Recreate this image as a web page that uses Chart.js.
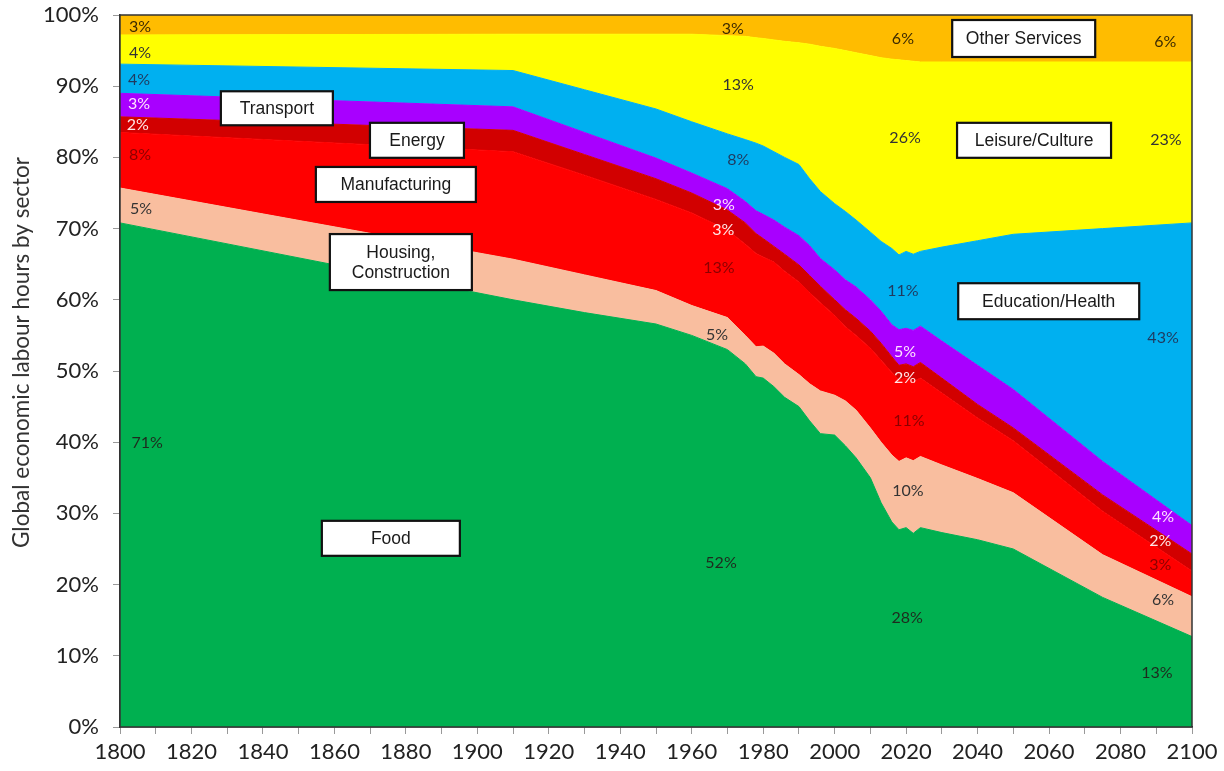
<!DOCTYPE html>
<html><head><meta charset="utf-8">
<script src="https://cdn.jsdelivr.net/npm/chart.js@4.4.1/dist/chart.umd.min.js"></script>
<style>html,body{margin:0;padding:0;background:#fff}</style>
</head><body>
<canvas id="c" width="1224" height="771"></canvas>
<script>
// ---- data (share of global economic labour hours, %) ----
const years = [1800,1910,1930,1950,1960,1970,1975,1978,1980,1983,1986,1990,1993,1996,2000,2003,2006,2010,2013,2016,2018,2020,2022,2024,2030,2040,2050,2075,2100];
const food          = [70.8,60.0,58.2,56.6,55.0,53.0,51.0,49.2,49.0,47.8,46.3,45.0,43.0,41.2,41.0,39.5,37.8,35.0,31.5,28.8,27.7,28.0,27.2,28.0,27.3,26.3,25.0,18.2,12.7];
const housing       = [4.9,5.7,5.3,4.7,4.2,4.5,4.0,4.2,4.5,4.7,4.7,4.5,5.2,6.0,5.6,6.3,6.7,7.0,8.5,9.4,9.6,9.8,10.2,10.0,9.5,8.6,7.9,6.0,5.6];
const manufacturing = [7.8,15.1,14.0,12.8,13.0,12.3,12.8,13.1,12.5,12.8,13.0,13.0,12.8,12.4,11.2,10.4,10.5,11.2,11.5,11.6,11.4,11.2,11.1,11.0,10.1,8.5,7.3,6.1,3.6];
const energy        = [2.2,3.0,2.9,2.9,2.8,2.8,3.0,2.8,2.6,2.2,2.4,2.4,2.4,2.3,2.2,2.4,2.4,2.4,2.4,2.2,2.1,2.0,2.1,2.2,2.1,1.9,1.8,2.3,2.4];
const transport     = [3.3,3.3,3.1,2.9,2.8,3.0,3.0,3.2,3.4,3.7,3.8,4.1,4.2,3.9,4.2,4.2,4.4,4.4,4.5,4.5,5.0,5.0,5.1,5.1,5.2,5.5,5.4,4.7,4.0];
const educationHealth = [4.1,5.1,6.0,6.9,7.2,7.7,8.7,9.5,9.6,9.6,9.8,10.0,9.4,9.4,9.3,9.6,9.4,9.5,9.8,10.7,10.5,10.8,10.7,10.5,13.2,17.5,21.8,32.7,42.5];
const leisureCulture  = [4.1,5.1,7.8,10.5,12.3,13.8,14.5,14.8,15.1,15.7,16.3,17.1,18.9,20.4,21.8,22.6,23.5,24.8,25.8,26.6,27.4,26.8,27.1,26.6,26.0,25.1,24.2,23.4,22.6];
const otherServices   = [2.8,2.7,2.7,2.7,2.7,2.9,3.0,3.2,3.3,3.5,3.7,3.9,4.1,4.4,4.7,5.0,5.3,5.7,6.0,6.2,6.3,6.4,6.5,6.6,6.6,6.6,6.6,6.6,6.6];
const sectorNames = ['Food','Housing, Construction','Manufacturing','Energy','Transport','Education/Health','Leisure/Culture','Other Services'];
const yTicks = [0,10,20,30,40,50,60,70,80,90,100];
const xTickLabels = [1800,1820,1840,1860,1880,1900,1920,1940,1960,1980,2000,2020,2040,2060,2080,2100];
const yTitle = 'Global economic labour hours by sector';

// ---- styling ----
const colors = ['#00B050','#F9BE9F','#FF0000','#D20000','#A800FF','#00B0F0','#FFFF00','#FFBC00'];
const seriesData = [food,housing,manufacturing,energy,transport,educationHealth,leisureCulture,otherServices];

// value annotations (text, year, %), colour per sector
const labelColors = ['#1e2a1e','#333333','#8B0000','#FFE6E6','#FFE0FF','#1F3A5F','#333333','#3d2b00'];
const valueLabels = [
  [['71%',1807.6,39.9],['52%',1968.2,23.0],['28%',2020.3,15.3],['13%',2090.2,7.6]],
  [['5%',1805.9,72.8],['5%',1967.1,55.1],['10%',2020.5,33.1],['6%',2091.9,17.8]],
  [['8%',1805.6,80.3],['13%',1967.6,64.5],['11%',2020.8,43.0],['3%',2091.1,22.8]],
  [['2%',1805.0,84.6],['3%',1968.8,69.8],['2%',2019.7,49.0],['2%',2091.1,26.1]],
  [['3%',1805.3,87.5],['3%',1969.0,73.3],['5%',2019.7,52.7],['4%',2091.9,29.5]],
  [['4%',1805.3,90.9],['8%',1973.0,79.6],['11%',2019.1,61.2],['43%',2091.9,54.6]],
  [['4%',1805.6,94.7],['13%',1973.0,90.2],['26%',2019.7,82.7],['23%',2092.7,82.4]],
  [['3%',1805.6,98.3],['3%',1971.5,98.0],['6%',2019.1,96.6],['6%',2092.5,96.3]]
];
// sector name boxes: [lines, year, %, width px, height px]
const nameBoxes = [
  [['Transport'],1843.9,86.9,112,34],
  [['Energy'],1883.1,82.4,94,35],
  [['Manufacturing'],1877.2,76.2,160,35],
  [['Housing,','Construction'],1878.6,65.3,142,56],
  [['Food'],1875.8,26.5,138,35],
  [['Other Services'],2052.9,96.7,143,37],
  [['Leisure/Culture'],2055.8,82.4,154,35],
  [['Education/Health'],2059.9,59.8,181,36]
];

const datasets = seriesData.map((arr,i)=>({
  label: sectorNames[i],
  data: arr.map((v,j)=>({x:years[j], y:v})),
  backgroundColor: colors[i],
  borderColor: colors[i],
  borderWidth: 1,
  pointRadius: 0,
  tension: 0,
  fill: i===0 ? 'origin' : '-1'
}));

const annot = {
  id:'annot',
  afterDatasetsDraw(chart){
    const ctx = chart.ctx, xs = chart.scales.x, ys = chart.scales.y;
    ctx.save();
    ctx.textAlign='center'; ctx.textBaseline='middle';
    ctx.font = '16px Lato';
    valueLabels.forEach((arr,i)=>{
      ctx.fillStyle = labelColors[i];
      arr.forEach(([t,x,y])=>ctx.fillText(t, xs.getPixelForValue(x), ys.getPixelForValue(y)));
    });
    nameBoxes.forEach(([lines,x,y,w,h])=>{
      const cx = xs.getPixelForValue(x), cy = ys.getPixelForValue(y);
      ctx.fillStyle='#fff';
      ctx.fillRect(cx-w/2, cy-h/2, w, h);
      ctx.lineWidth=2.2; ctx.strokeStyle='#111';
      ctx.strokeRect(cx-w/2, cy-h/2, w, h);
      ctx.fillStyle='#1a1a1a';
      ctx.font='17.5px "Liberation Sans", Arial, sans-serif';
      const lh = 20;
      lines.forEach((ln,k)=>ctx.fillText(ln, cx, cy + (k-(lines.length-1)/2)*lh + 1));
    });
    const a = chart.chartArea;
    ctx.lineWidth=1.5; ctx.strokeStyle='#333';
    ctx.strokeRect(a.left, a.top, a.right-a.left, a.bottom-a.top);
    // y-axis title
    ctx.save();
    ctx.translate(22, ys.getPixelForValue(52.6));
    ctx.rotate(-Math.PI/2);
    ctx.fillStyle='#333'; ctx.font='22.5px Lato';
    ctx.fillText(yTitle, 0, 0);
    ctx.restore();
    ctx.restore();
  }
};

new Chart(document.getElementById('c'), {
  type:'line',
  data:{datasets},
  options:{
    responsive:false, animation:false, devicePixelRatio:1,
    layout:{padding:{left:0,top:15,right:32,bottom:0}},
    plugins:{legend:{display:false}, tooltip:{enabled:false}},
    scales:{
      x:{
        type:'linear', min:1800, max:2100,
        afterBuildTicks(s){ s.ticks = []; for(let v=1800; v<=2100; v+=10) s.ticks.push({value:v}); },
        ticks:{autoSkip:false, maxRotation:0, padding:5, color:'#222',
          font:{family:'Lato', size:22},
          callback:(v)=> xTickLabels.includes(v) ? String(v) : ''},
        grid:{drawOnChartArea:false, drawTicks:true, tickLength:7, tickColor:'#999'},
        border:{display:true, color:'#333', width:1.5},
        afterFit(s){ s.height = 44; s.paddingLeft = 0; s.paddingRight = 0; }
      },
      y:{
        stacked:true, min:0, max:100,
        afterBuildTicks(s){ s.ticks = yTicks.map(v=>({value:v})); },
        ticks:{padding:14, color:'#222', font:{family:'Lato', size:22}, callback:(v)=>v+'%'},
        grid:{drawOnChartArea:false, drawTicks:true, tickLength:7, tickColor:'#999'},
        border:{display:true, color:'#333', width:1.5},
        afterFit(s){ s.width = 120; s.paddingTop = 0; s.paddingBottom = 0; }
      }
    }
  },
  plugins:[annot]
});
</script>
</body></html>
